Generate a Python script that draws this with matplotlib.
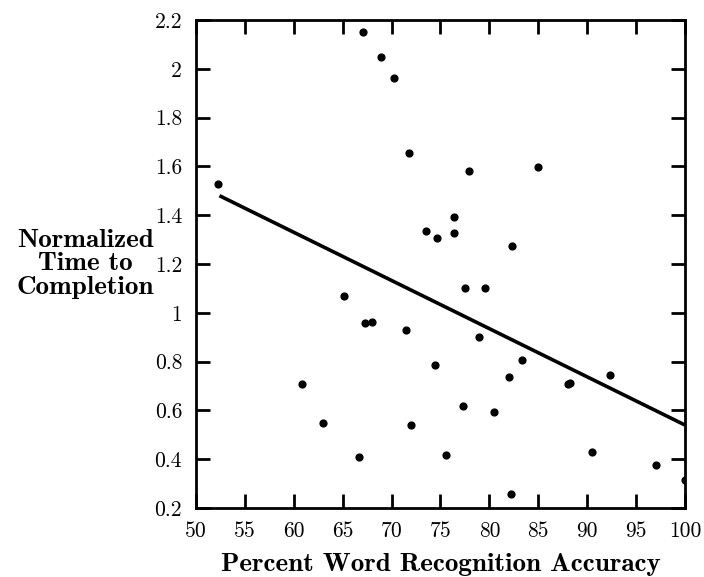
import numpy as np
import matplotlib
matplotlib.use("Agg")
import matplotlib.pyplot as plt

# points
accuracy = [52.2, 67.1, 68.9, 70.2, 71.8, 73.5, 74.6, 77.9, 85.0, 76.4, 76.4, 82.3,
            65.1, 67.3, 68.0, 71.5, 74.4, 60.8, 63.0, 72.0, 66.7, 75.6,
            77.5, 79.6, 78.9, 83.3, 82.0, 88.0, 88.2, 92.3, 77.3, 80.5, 90.5, 97.0, 100.0, 82.2]
norm_time = [1.528, 2.152, 2.050, 1.964, 1.656, 1.336, 1.308, 1.581, 1.599, 1.393, 1.328, 1.275,
             1.070, 0.959, 0.962, 0.931, 0.787, 0.709, 0.550, 0.541, 0.409, 0.418,
             1.103, 1.103, 0.902, 0.808, 0.738, 0.709, 0.712, 0.746, 0.618, 0.595, 0.431, 0.377, 0.316, 0.259]

# regression line end points
fit_x = [52.4, 100.0]
fit_y = [1.48, 0.54]

xticks = [50, 55, 60, 65, 70, 75, 80, 85, 90, 95, 100]
yticks = [0.2, 0.4, 0.6, 0.8, 1.0, 1.2, 1.4, 1.6, 1.8, 2.0, 2.2]
ytick_labels = ["0.2", "0.4", "0.6", "0.8", "1", "1.2", "1.4", "1.6", "1.8", "2", "2.2"]

fig = plt.figure(figsize=(7.04, 5.77), dpi=100)
ax = fig.add_axes([0.2784, 0.1196, 0.6946, 0.8457])

ax.plot(fit_x, fit_y, color="black", lw=2.6, solid_capstyle="butt")
ax.scatter(accuracy, norm_time, s=24, color="black", zorder=3)

ax.set_xlim(50, 100)
ax.set_ylim(0.2, 2.2)
ax.set_xticks(xticks)
ax.set_xticklabels([str(t) for t in xticks], fontfamily="cmr10", fontsize=15.5)
ax.set_yticks(yticks)
ax.set_yticklabels(ytick_labels, fontfamily="cmr10", fontsize=15.5)
ax.tick_params(direction="in", length=10, width=2, top=True, right=True, pad=10)
for sp in ax.spines.values():
    sp.set_linewidth(2)

ax.set_xlabel("Percent Word Recognition Accuracy", fontfamily="cmb10", fontsize=19.5, labelpad=8)
fig.text(0.121, 0.5425, "Normalized\nTime to\nCompletion", fontfamily="cmb10", fontsize=19.5,
         ha="center", va="center", multialignment="center", linespacing=1.02)

plt.savefig("out.png", dpi=100)
